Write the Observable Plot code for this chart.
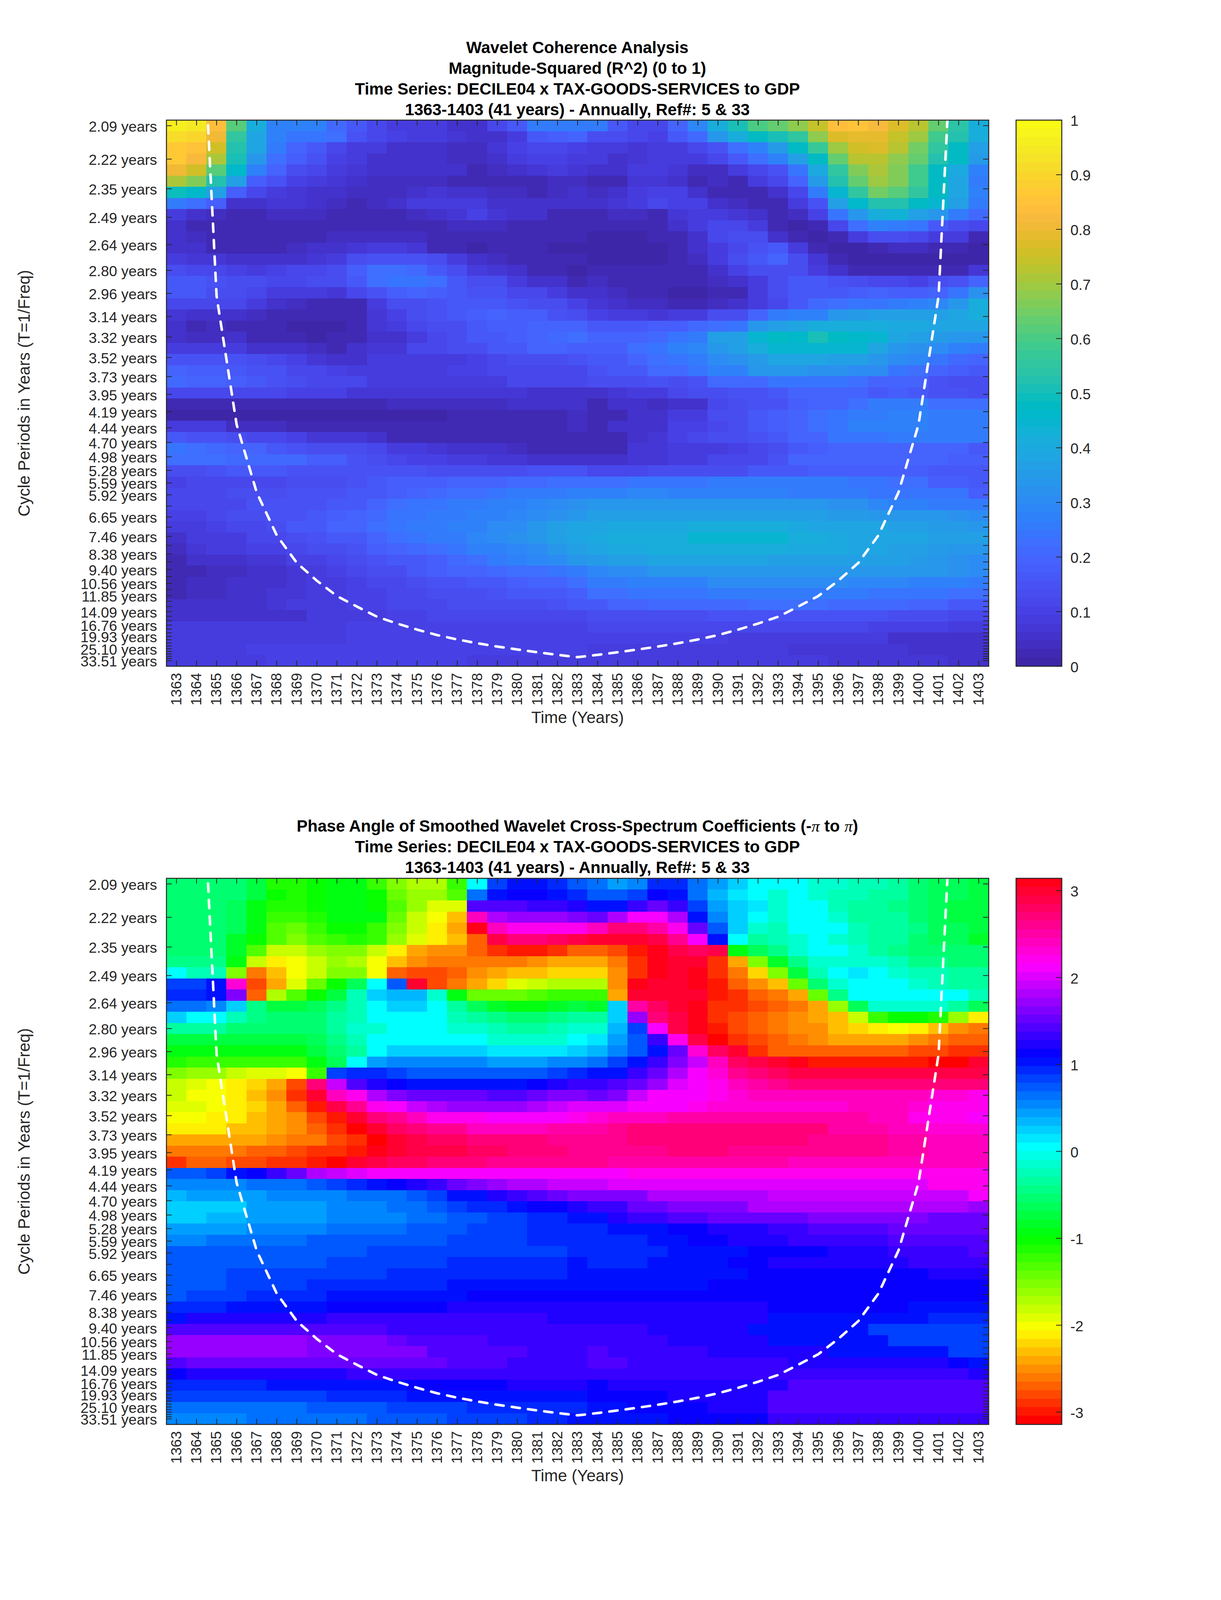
<!DOCTYPE html>
<html>
<head>
<meta charset="utf-8">
<script src="https://cdn.jsdelivr.net/npm/d3@7"></script>
<script src="https://cdn.jsdelivr.net/npm/@observablehq/plot@0.6"></script>
<style>
html,body{margin:0;padding:0;background:#fff;}
#page{position:relative;width:3125px;height:4096px;background:#fff;overflow:hidden;font-family:"Liberation Sans",Arial,sans-serif;}
#page svg{position:absolute;background:transparent;overflow:visible;font-family:"Liberation Sans",Arial,sans-serif;}
.t{position:absolute;left:1477.75px;transform:translateX(-50%);white-space:nowrap;font:bold 42px/47px "Liberation Sans",Arial,sans-serif;color:#000;}
.t i{font-family:"Liberation Serif",serif;font-weight:normal;}
</style>
</head>
<body>
<div id="page"></div>
<script>
const years = d3.range(1363, 1404);
// cycle periods of the 49 wavelet rows, top to bottom
const periods = [2.09,2.22,2.35,2.49,2.64,2.80,2.96,3.14,3.32,3.52,3.73,3.95,4.19,4.44,4.70,4.98,5.28,5.59,5.92,6.27,6.65,7.05,7.46,7.91,8.38,8.88,9.40,9.96,10.56,11.18,11.85,12.55,13.30,14.09,14.92,15.81,16.76,17.75,18.81,19.93,21.12,22.37,23.70,25.10,26.60,28.18,29.85,31.62,33.51];
const labelledPeriods = [2.09,2.22,2.35,2.49,2.64,2.80,2.96,3.14,3.32,3.52,3.73,3.95,4.19,4.44,4.70,4.98,5.28,5.59,5.92,6.65,7.46,8.38,9.40,10.56,11.85,14.09,16.76,19.93,25.10,33.51];
// cone of influence: period at each year 1364..1402
const coiYears = d3.range(1364, 1403);
const coiPeriods = [1.49,2.98,4.39,5.85,7.41,8.94,10.32,11.9,13.3,15.0,16.4,17.9,19.5,21.0,22.5,24.0,25.5,27.1,28.8,30.5,28.8,27.1,25.5,24.0,22.5,21.0,19.5,17.9,16.4,15.0,13.3,11.9,10.32,8.94,7.41,5.85,4.39,2.98,1.49];
// magnitude-squared coherence, in percent
const coherence = [
[96,95,84,62,41,28,27,27,21,16,11,9,9,8,5,5,11,16,25,26,26,26,17,12,12,19,29,41,50,60,63,68,74,83,85,82,77,72,64,54,42],
[92,90,80,55,39,27,24,24,22,15,11,10,8,8,7,5,5,9,16,18,19,14,14,11,10,17,21,33,42,47,51,55,68,77,79,79,74,69,59,52,42],
[87,85,75,52,38,25,20,16,12,9,8,6,6,6,4,4,7,10,11,11,10,8,8,7,8,8,11,15,22,28,35,47,57,70,76,77,72,65,55,48,36],
[86,82,71,50,34,23,18,15,10,8,6,5,5,5,4,4,6,9,10,10,9,8,6,7,9,9,8,12,16,22,28,37,47,63,72,72,68,64,53,47,35],
[80,75,62,46,27,19,14,11,9,7,6,5,5,5,5,3,4,6,7,8,7,5,5,8,8,7,4,4,8,12,15,24,40,55,66,71,66,58,48,40,28],
[71,66,52,37,18,15,10,8,7,5,4,4,4,4,3,2,2,3,3,4,4,3,3,7,7,5,3,4,3,8,12,19,35,52,64,69,66,58,48,39,25],
[49,46,36,18,11,9,7,6,5,4,4,4,5,7,6,5,4,4,3,4,5,4,5,8,10,10,6,2,3,2,6,11,26,45,56,65,62,55,47,38,27],
[25,22,18,6,5,7,7,5,4,3,4,5,8,9,9,8,6,5,5,5,5,6,7,9,11,10,10,5,4,3,3,8,15,36,46,53,53,47,44,36,26],
[8,5,4,3,2,4,4,4,3,3,3,2,4,6,7,10,7,6,5,3,3,3,4,4,3,7,9,9,7,5,3,4,10,24,33,42,43,37,33,26,21],
[6,3,3,2,2,2,2,2,2,2,2,2,2,2,4,4,4,3,3,3,2,2,2,2,3,6,9,11,11,8,3,1,3,12,22,27,26,24,17,14,11],
[6,4,3,2,2,2,2,2,4,4,4,4,4,2,2,2,2,3,3,3,2,1,1,1,2,3,6,11,13,13,6,2,0,2,9,14,14,12,9,8,3],
[6,5,3,2,2,2,4,5,6,7,9,9,7,3,2,1,2,2,2,1,1,1,1,1,1,3,5,8,12,15,16,9,2,0,1,3,4,4,3,2,1],
[9,7,7,5,5,5,5,7,9,13,15,15,15,13,8,6,4,3,3,2,2,1,1,1,1,3,4,9,14,16,19,14,7,2,1,1,1,1,1,1,1],
[13,12,11,10,9,10,11,12,14,18,22,22,21,17,13,9,7,5,3,2,1,2,2,2,2,2,3,5,10,13,14,14,9,5,3,2,3,3,3,3,7],
[17,16,15,14,14,11,12,13,14,17,22,24,24,22,17,13,13,9,6,5,3,4,3,2,2,2,2,4,6,9,13,16,16,15,14,12,11,10,13,15,20],
[16,16,14,14,11,8,8,8,7,12,15,18,19,18,16,15,15,12,12,9,6,5,4,3,3,1,1,2,3,8,13,16,17,17,18,19,18,18,20,24,32],
[12,11,11,11,8,5,4,3,3,3,9,13,14,15,17,17,17,15,14,13,10,7,5,4,4,3,3,4,6,8,12,17,21,22,24,24,26,27,29,33,41],
[7,5,5,5,4,3,2,2,2,3,7,10,13,15,17,18,19,18,18,15,14,10,9,9,7,8,9,13,14,20,26,28,28,33,35,36,36,36,36,38,42],
[5,3,4,3,2,2,1,1,1,3,7,8,11,13,14,16,18,18,20,20,20,16,16,16,18,18,21,23,24,34,36,39,41,41,42,42,40,40,39,39,38],
[5,4,4,5,3,2,2,1,2,3,5,6,9,11,14,16,17,18,19,21,22,19,19,20,21,24,26,36,36,45,47,46,50,47,46,45,38,37,35,34,33],
[9,9,9,8,5,5,5,4,3,5,7,7,11,11,13,14,16,17,19,20,18,18,18,22,24,28,29,33,36,42,45,44,44,44,44,39,33,32,30,28,25],
[15,15,15,15,13,11,10,7,6,6,8,8,8,8,9,10,12,13,13,14,15,16,16,20,22,24,26,30,32,35,38,39,38,37,37,34,31,29,24,21,20],
[19,18,18,16,15,15,12,11,10,9,9,8,8,8,10,10,11,12,11,11,12,15,17,17,21,21,24,27,27,33,33,33,32,32,30,30,24,22,19,18,16],
[21,20,20,18,17,15,14,12,11,11,9,9,9,9,9,9,9,11,11,11,11,13,13,14,15,14,15,21,21,21,24,24,24,24,23,20,19,19,15,14,13],
[11,11,11,11,11,11,10,10,10,7,7,7,7,7,7,7,7,7,5,5,5,6,7,9,9,11,14,14,15,15,17,19,19,19,19,17,18,16,15,15,13],
[2,2,2,2,2,2,2,2,2,2,3,4,4,4,4,4,4,5,5,5,6,3,5,5,4,5,5,12,13,15,15,18,20,20,22,25,25,25,22,22,22],
[1,1,1,1,1,1,1,1,1,1,1,1,1,1,2,2,2,2,3,3,4,2,3,5,5,8,8,13,13,16,18,19,22,24,25,25,27,27,26,26,26],
[8,8,8,4,4,4,3,3,3,2,2,2,2,2,2,2,2,2,3,3,4,2,5,5,5,10,10,12,14,16,18,19,22,24,27,27,27,27,26,26,26],
[17,15,15,14,11,11,10,7,7,7,5,3,3,3,2,2,2,2,3,3,3,2,3,6,7,10,12,13,14,15,16,19,20,24,24,24,25,26,26,25,25],
[24,23,21,20,20,16,15,14,14,14,12,9,9,7,6,6,5,4,3,3,3,3,3,7,7,8,9,9,10,11,13,16,18,20,20,20,20,20,19,19,17],
[22,22,22,21,21,21,21,18,18,15,14,12,10,10,9,9,7,7,6,6,6,6,6,7,7,8,8,11,12,12,15,19,19,19,19,19,19,19,19,18,18],
[14,14,15,16,16,16,15,15,15,15,15,15,15,13,13,14,14,14,15,15,15,12,12,12,13,13,13,14,14,16,16,17,18,18,18,18,18,18,17,17,17],
[10,11,11,11,11,12,14,14,14,15,16,18,18,18,20,20,20,21,21,22,22,22,22,24,24,24,24,25,25,25,25,25,25,25,24,24,22,22,18,18,17],
[11,11,11,13,13,14,15,15,15,16,17,18,20,21,23,23,24,25,26,26,27,27,27,29,29,28,28,28,28,28,28,26,26,26,25,24,24,24,24,24,18],
[11,11,12,12,15,15,15,15,17,17,20,22,24,24,25,26,27,28,29,30,32,33,34,34,34,34,34,34,34,34,34,34,33,32,32,29,28,28,26,26,25],
[10,10,11,13,13,15,15,17,18,19,21,24,24,25,26,27,28,29,30,32,34,36,36,37,37,37,37,37,37,37,37,37,36,35,35,34,33,33,33,32,30],
[9,9,10,12,12,14,16,17,19,20,22,24,25,26,27,28,30,31,34,36,39,39,40,40,40,40,41,41,41,41,41,40,39,38,38,38,37,36,35,35,34],
[6,8,9,9,12,12,14,15,16,17,20,23,24,25,26,29,31,32,34,37,39,40,41,41,41,42,44,44,44,44,44,41,41,40,39,39,38,38,37,37,36],
[4,7,9,9,10,10,11,13,14,15,18,20,21,23,24,27,28,29,30,33,37,38,40,40,42,42,41,41,41,41,41,40,40,40,39,38,37,36,35,34,33],
[2,5,5,5,7,7,10,10,12,14,15,16,17,18,21,22,26,27,29,31,33,35,36,36,39,39,39,38,38,38,37,36,36,37,37,37,36,35,34,32,31],
[2,2,4,4,5,6,7,8,10,11,13,14,16,18,19,19,21,22,23,24,26,29,30,31,33,33,33,34,34,34,34,34,34,34,33,33,33,33,33,32,31],
[2,4,4,5,6,6,7,8,9,10,11,12,14,15,15,16,17,18,19,19,22,26,26,27,28,28,28,31,31,31,31,31,31,31,29,29,29,28,28,28,26],
[3,4,4,6,6,7,7,9,9,10,10,11,12,13,14,14,15,16,17,17,18,22,22,24,24,24,24,25,25,25,25,25,25,25,25,24,24,24,24,23,23],
[5,6,6,6,6,7,8,8,9,10,10,11,11,12,13,13,13,13,14,15,16,17,20,20,21,21,21,21,21,22,22,22,22,21,21,21,21,19,19,17,16],
[5,5,5,6,6,6,6,8,8,8,9,10,10,11,11,11,11,11,11,12,12,14,14,14,14,14,14,15,15,15,15,15,15,15,15,15,13,13,13,11,11],
[8,8,8,8,9,9,9,9,9,10,10,10,10,10,10,10,10,10,10,10,10,12,12,12,12,12,12,12,12,12,12,12,12,11,11,10,10,10,10,8,8],
[8,9,9,9,9,9,9,9,9,10,10,10,10,10,10,10,10,10,10,10,10,10,10,10,10,10,10,10,9,9,9,9,9,8,8,8,6,6,6,6,6],
[9,9,9,9,10,10,10,10,10,10,10,10,10,10,10,10,10,10,10,10,10,9,9,9,9,9,9,9,9,9,9,7,7,7,7,7,7,6,5,5,6],
[9,9,9,9,9,10,10,10,10,10,10,10,10,10,10,9,9,9,9,9,9,9,9,9,9,8,8,8,8,8,8,8,8,7,7,7,7,7,7,6,6]
];
// phase angle, in tenths of a radian
const phase = [
[-5,-5,-5,-5,-7,-11,-11,-10,-9,-9,-12,-15,-17,-17,-12,0,8,10,10,9,7,6,4,5,9,9,6,4,2,0,0,0,-1,-1,-2,-2,-3,-5,-6,-6,-7],
[-5,-5,-5,-5,-7,-10,-11,-10,-9,-9,-10,-14,-16,-16,-13,6,10,11,11,10,9,7,7,8,11,10,6,3,1,0,-1,0,-1,-2,-2,-3,-3,-5,-6,-6,-7],
[-5,-5,-5,-6,-9,-11,-11,-10,-9,-9,-10,-13,-16,-19,-19,14,14,14,13,13,12,10,10,13,15,13,8,4,2,1,-1,0,0,-2,-3,-3,-4,-5,-6,-7,-7],
[-5,-5,-5,-6,-9,-12,-12,-11,-9,-9,-9,-14,-18,-20,-23,24,18,17,17,17,16,15,18,21,21,18,10,5,2,0,-1,0,0,-1,-3,-3,-3,-5,-6,-7,-7],
[-5,-5,-5,-6,-9,-13,-14,-12,-10,-10,-12,-15,-18,-21,-24,31,24,22,22,22,22,24,27,27,25,22,15,7,2,-1,-2,0,0,0,-2,-3,-3,-4,-6,-6,-7],
[-5,-5,-5,-8,-10,-13,-15,-13,-12,-11,-12,-16,-19,-21,-23,-27,29,27,27,28,29,30,30,30,29,26,21,10,0,-3,-2,-1,0,-1,-2,-3,-3,-5,-6,-6,-8],
[-5,-5,-5,-8,-13,-18,-18,-16,-15,-15,-18,-21,-24,-25,-25,-27,-29,-30,-30,-29,-27,-27,-28,-30,31,29,28,29,-9,-6,-4,-1,0,0,-1,-3,-4,-5,-5,-5,-5],
[-4,-4,-4,-9,-18,-21,-20,-18,-16,-17,-20,-23,-25,-26,-26,-26,-26,-26,-25,-24,-24,-24,-26,-29,31,30,30,-29,-24,-15,-8,-4,-1,-1,-1,-1,-2,-4,-4,-5,-5],
[0,-2,-2,-15,-26,-23,-20,-18,-15,-15,-20,-27,-28,-28,-27,-25,-24,-23,-23,-22,-22,-22,-25,-29,31,30,31,-29,-26,-22,-15,-7,-2,0,1,0,-1,-2,-2,-3,-3],
[8,8,10,23,-28,-24,-19,-14,-10,-6,0,7,30,-28,-26,-24,-22,-19,-18,-17,-17,-17,-25,31,30,30,31,-30,-27,-25,-23,-14,-5,-1,0,0,0,-1,-2,-3,-3],
[9,9,10,16,-27,-17,-13,-10,-7,-2,2,3,3,-1,-9,-14,-14,-14,-13,-12,-12,-12,-24,30,30,30,30,-30,-29,-27,-26,-24,-14,-4,0,0,0,0,0,0,-2],
[6,6,5,2,-4,-7,-7,-6,-4,-2,0,2,2,0,-3,-6,-8,-9,-9,-8,-7,-8,2,25,28,30,31,-29,-29,-28,-27,-26,-24,-16,-6,-1,-1,-1,-1,-3,-6],
[2,0,0,-2,-4,-5,-5,-5,-3,-2,0,0,0,0,-2,-3,-4,-5,-5,-4,-3,-3,2,17,27,29,31,-29,-28,-27,-26,-25,-24,-23,-18,-12,-10,-10,-11,-16,-21],
[-3,-3,-3,-5,-5,-5,-5,-5,-3,-1,-1,0,0,0,-1,-1,-2,-3,-3,-2,-1,-1,3,8,21,29,31,-30,-28,-27,-26,-25,-25,-23,-22,-21,-20,-21,-23,-25,-26],
[-7,-7,-7,-7,-7,-7,-7,-6,-4,-2,0,0,0,0,0,0,-1,-1,-1,-1,0,1,4,7,13,22,29,-31,-29,-28,-27,-26,-25,-24,-24,-24,-24,-25,-26,-27,-27],
[-9,-9,-9,-9,-9,-9,-9,-7,-5,-3,0,2,2,2,2,2,1,1,1,1,2,3,5,7,10,15,23,28,30,-29,-27,-27,-27,-27,-27,-27,-27,-28,-28,-29,-29],
[-11,-12,-12,-12,-12,-12,-12,-9,-6,0,4,5,5,5,5,5,4,4,4,5,5,6,8,10,13,16,19,24,28,29,30,31,-30,-30,-30,-30,-30,-30,-31,-31,30],
[-15,-16,-16,-18,-19,-19,-20,-12,8,9,9,8,7,7,7,7,7,7,7,8,9,10,10,13,15,18,21,23,26,27,28,29,29,29,29,29,29,29,29,29,29],
[-18,-19,-20,-21,-22,-24,-28,27,19,14,12,11,10,10,10,10,10,10,11,12,13,13,14,15,17,20,21,22,24,25,26,27,27,27,27,27,27,27,27,27,27],
[-18,-20,-20,-21,-23,-25,-29,30,24,22,18,16,15,15,15,15,14,14,15,16,16,15,16,19,21,21,21,22,23,24,24,24,24,24,24,24,24,24,23,23,22],
[-19,-19,-20,-21,-22,-24,-27,-30,29,26,22,21,19,18,17,17,17,17,18,19,20,20,20,21,21,21,22,23,23,23,23,23,23,23,24,24,24,23,22,22,22],
[-20,-20,-21,-21,-23,-24,-25,-28,-30,30,27,26,24,22,22,22,21,21,21,21,22,23,24,24,24,25,25,25,25,25,25,25,25,25,25,24,24,22,22,22,21],
[-21,-21,-21,-23,-23,-24,-25,-27,-29,-31,30,28,27,26,26,24,24,24,24,25,25,25,26,27,27,27,27,27,27,27,27,27,27,25,25,25,24,24,23,23,23],
[-24,-24,-24,-24,-24,-25,-26,-26,-28,-29,-31,30,29,28,28,27,27,27,27,26,26,26,26,27,27,27,27,27,27,27,27,27,26,26,26,26,25,25,24,24,24],
[-26,-26,-26,-26,-27,-27,-28,-29,-29,-30,31,30,29,29,29,28,28,27,27,27,26,26,26,26,26,27,27,27,26,26,26,26,26,26,26,26,25,25,24,24,24],
[-29,-27,-27,-28,-28,-29,-29,-30,-31,30,29,28,28,27,27,27,26,26,26,26,26,26,25,25,25,25,25,25,25,25,25,24,24,24,24,24,24,24,24,24,24],
[7,7,8,10,11,13,15,18,19,20,21,21,21,21,21,21,21,21,21,21,21,21,21,22,22,22,22,22,22,22,22,22,22,22,22,22,22,22,22,22,22],
[5,5,5,5,6,6,6,7,8,9,10,11,12,13,15,16,17,18,18,19,19,19,20,20,20,20,20,20,20,20,20,20,20,20,20,20,20,20,22,22,22],
[3,4,4,4,4,5,5,5,5,6,6,6,7,8,10,10,12,13,14,15,16,16,16,16,18,18,18,18,18,18,19,19,19,19,19,19,19,19,19,19,21],
[2,2,2,2,4,4,4,4,5,5,5,6,6,7,8,9,9,10,11,11,12,13,13,15,15,16,16,16,16,18,18,18,18,18,18,18,18,18,18,18,17],
[2,2,3,3,4,4,4,4,5,5,5,5,6,6,7,7,8,8,9,9,10,10,12,13,13,14,14,15,15,15,15,15,16,16,16,16,16,16,15,15,15],
[4,4,4,4,5,5,5,5,6,6,6,6,7,7,7,8,8,8,9,9,9,9,10,10,10,11,11,12,12,12,13,13,14,14,14,14,15,15,15,15,15],
[5,5,6,6,6,6,6,7,7,7,7,7,7,7,8,8,8,8,9,9,9,9,9,9,10,10,11,11,12,12,12,13,13,13,13,13,14,14,14,14,14],
[7,7,7,7,7,7,7,7,7,7,8,8,8,8,8,8,8,8,8,8,9,9,9,9,9,10,10,10,10,11,11,11,11,12,12,12,13,13,13,13,14],
[7,7,7,7,7,7,7,7,8,8,8,8,8,8,9,9,9,9,9,9,10,9,9,9,10,10,10,10,11,11,12,12,12,12,12,12,12,13,13,13,13],
[7,7,7,8,8,8,8,8,8,8,8,9,9,9,9,9,9,9,9,9,10,10,10,10,10,10,10,10,10,11,11,11,11,11,11,11,11,11,12,12,12],
[7,7,7,8,8,8,8,9,9,9,9,9,9,9,10,10,10,10,10,10,10,10,10,10,10,10,10,11,11,11,11,11,11,11,11,11,11,11,11,11,11],
[7,8,8,8,9,9,9,9,10,10,10,10,10,10,10,11,11,11,11,11,11,11,11,11,11,11,11,11,11,11,11,11,11,11,11,11,11,11,11,11,11],
[9,9,9,10,10,10,10,10,11,11,11,11,11,11,12,12,12,12,12,12,12,12,12,12,12,12,12,12,12,12,11,11,11,11,11,11,11,10,10,10,10],
[10,12,12,12,12,12,12,12,13,13,13,13,13,13,13,13,13,13,13,12,12,12,12,12,12,12,12,12,12,12,10,10,10,10,10,10,10,10,9,9,9],
[14,14,14,14,14,14,14,14,14,14,14,13,13,13,13,13,13,13,13,13,13,13,13,13,12,12,12,12,12,10,10,10,10,10,10,8,8,8,8,8,8],
[17,17,17,17,17,17,17,16,16,16,16,15,14,14,14,14,13,13,13,13,13,13,13,13,13,12,12,12,12,12,10,10,10,10,10,10,8,8,8,8,8],
[17,17,17,17,17,17,17,16,16,16,16,16,16,14,14,14,14,14,13,13,13,14,13,13,13,13,13,12,12,12,12,12,12,10,10,10,10,10,10,8,8],
[14,15,15,15,15,15,15,15,15,15,15,15,15,15,14,14,14,13,13,13,13,14,14,13,13,13,13,13,13,13,13,12,12,12,12,12,12,12,12,11,10],
[11,12,12,12,12,12,12,12,12,13,13,13,13,13,13,13,13,13,13,13,13,13,13,13,13,13,13,13,13,13,13,13,13,13,13,13,13,13,13,13,12],
[9,9,9,9,9,10,10,10,10,10,10,10,11,11,11,11,11,12,12,12,12,11,12,12,12,12,12,12,12,12,12,14,14,14,14,14,14,14,14,14,14],
[8,8,8,8,8,8,8,8,9,9,9,9,10,10,10,10,10,10,10,10,10,11,11,11,11,12,12,12,12,12,14,14,14,14,14,14,14,14,14,14,14],
[6,6,6,6,6,6,6,7,7,7,7,8,8,8,8,9,9,9,9,9,9,10,10,11,11,11,11,12,12,12,14,14,14,14,14,14,14,14,14,14,14],
[5,5,5,5,6,6,6,6,6,6,7,7,7,7,8,8,8,8,9,9,10,10,10,10,10,11,11,11,11,11,13,13,13,13,13,13,13,13,13,13,13]
];
const coherenceTicks = [0,0.1,0.2,0.3,0.4,0.5,0.6,0.7,0.8,0.9,1];
const phaseTicks = [-3,-2,-1,0,1,2,3];
const parulaRGB = [[.2422,.1504,.6603],[.2504,.1650,.7076],[.2578,.1818,.7511],[.2647,.1978,.7952],[.2706,.2147,.8364],[.2751,.2342,.8710],[.2783,.2559,.8991],[.2803,.2782,.9221],[.2813,.3006,.9414],[.2810,.3228,.9579],[.2795,.3447,.9717],[.2760,.3667,.9829],[.2699,.3892,.9906],[.2602,.4123,.9952],[.2440,.4358,.9988],[.2206,.4603,.9973],[.1963,.4847,.9892],[.1834,.5074,.9798],[.1786,.5289,.9682],[.1764,.5499,.9520],[.1687,.5703,.9359],[.1540,.5902,.9218],[.1460,.6091,.9079],[.1380,.6276,.8973],[.1248,.6459,.8883],[.1113,.6635,.8763],[.0952,.6798,.8598],[.0689,.6948,.8394],[.0297,.7082,.8163],[.0036,.7203,.7917],[.0067,.7312,.7660],[.0433,.7411,.7394],[.0964,.7500,.7120],[.1408,.7584,.6842],[.1717,.7670,.6554],[.1938,.7758,.6251],[.2161,.7843,.5923],[.2470,.7918,.5567],[.2906,.7973,.5188],[.3406,.8008,.4789],[.3909,.8029,.4354],[.4456,.8024,.3909],[.5044,.7993,.3480],[.5616,.7942,.3045],[.6174,.7876,.2612],[.6720,.7793,.2227],[.7242,.7698,.1910],[.7738,.7598,.1646],[.8203,.7498,.1535],[.8634,.7406,.1596],[.9035,.7330,.1774],[.9393,.7288,.2100],[.9728,.7298,.2394],[.9956,.7434,.2371],[.9970,.7659,.2199],[.9952,.7893,.2028],[.9892,.8136,.1885],[.9786,.8386,.1766],[.9676,.8639,.1643],[.9610,.8890,.1537],[.9597,.9135,.1423],[.9628,.9373,.1265],[.9691,.9606,.1064],[.9769,.9839,.0805]];

const INK = "#262626";
const page = document.getElementById("page");
const K = 4096/6252; // the capture window is 4096 tall, so the reference's vertical layout is compressed by this factor
const parula = parulaRGB.map(c => d3.rgb(c[0]*255, c[1]*255, c[2]*255).formatHex());
const hsv = d3.range(64).map(i => d3.hsl(i/64*360, 1, .5).formatHex());
const fTop = 1/periods[0], fBot = 1/periods[48], step = (fTop-fBot)/48;
const freqDomain = [fBot-step/2, fTop+step/2];
const tickFreqs = periods.map(p => 1/p);
const labelFreqs = labelledPeriods.map(p => 1/p);
const coi = coiYears.map((year,i) => ({year, period: coiPeriods[i]}));

const L = 425.5, R = 2530, AH = 2134*K, MT = 10, PW = R-L, FS = 37.5, TICK = 14;
function place(svg, left, top){ svg.style.left = left+"px"; svg.style.top = top+"px"; page.appendChild(svg); return svg; }

function heat(matrix, scaleK, palette, domain, top){
  const cells = [];
  matrix.forEach((row,r) => row.forEach((v,c) => cells.push({
    x1: years[c]-.5, x2: years[c]+.5,
    y1: fTop-(r-.5)*step, y2: fTop-(r+.5)*step, v: v*scaleK})));
  const thresholds = d3.range(1,64).map(i => domain[0]+(domain[1]-domain[0])*i/64);
  const svg = Plot.plot({
    width: 2560, height: AH+MT+190,
    marginLeft: L, marginRight: 2560-R, marginTop: MT, marginBottom: 190,
    x: {domain:[1362.5,1403.5], axis:null},
    y: {domain:freqDomain, axis:null},
    color: {type:"threshold", domain:thresholds, range:palette},
    style: {background:"transparent", fontFamily:"Liberation Sans, Arial, sans-serif", overflow:"visible"},
    marks: [
      Plot.rect(cells, {x1:"x1", x2:"x2", y1:"y1", y2:"y2", fill:"v", shapeRendering:"crispEdges"}),
      Plot.line(coi, {x:"year", y:d=>1/d.period, stroke:"white", strokeWidth:6.5, strokeDasharray:"21 21", clip:true}),
      Plot.tickX(years, {x:d=>d, insetTop:AH-TICK, stroke:INK, strokeWidth:2}),
      Plot.tickX(years, {x:d=>d, insetBottom:AH-TICK, stroke:INK, strokeWidth:2}),
      Plot.tickY(tickFreqs, {y:d=>d, insetRight:PW-TICK, stroke:INK, strokeWidth:2}),
      Plot.tickY(tickFreqs, {y:d=>d, insetLeft:PW-TICK, stroke:INK, strokeWidth:2}),
      Plot.frame({stroke:INK, strokeWidth:2.5}),
      Plot.axisX(years, {anchor:"bottom", tickSize:0, tickPadding:17, tickRotate:-90, tickFormat:d=>String(d), fontSize:FS, color:INK, label:null}),
      Plot.axisY(labelFreqs, {anchor:"left", tickSize:0, tickPadding:24, dy:3, tickFormat:f=>(1/f).toFixed(2)+" years", fontSize:FS, color:INK, label:null}),
      Plot.text(["Time (Years)"], {frameAnchor:"bottom", dy:145, fontSize:42, fill:INK, lineAnchor:"bottom"}),
      Plot.text(["Cycle Periods in Years (T=1/Freq)"], {frameAnchor:"left", dx:-350, rotate:-90, textAnchor:"middle", fontSize:42, fill:INK, lineAnchor:"bottom"})
    ]
  });
  place(svg, 0, top-MT);
}

function colorbar(palette, domain, ticks, top){
  const bands = d3.range(64).map(i => ({
    y1: domain[0]+(domain[1]-domain[0])*i/64,
    y2: domain[0]+(domain[1]-domain[0])*(i+1)/64,
    v:  domain[0]+(domain[1]-domain[0])*(i+.5)/64}));
  const thresholds = d3.range(1,64).map(i => domain[0]+(domain[1]-domain[0])*i/64);
  const svg = Plot.plot({
    width: 300, height: AH+2*MT,
    marginLeft: 10, marginRight: 300-127, marginTop: MT, marginBottom: MT,
    x: {domain:[0,1], axis:null},
    y: {domain, axis:null},
    color: {type:"threshold", domain:thresholds, range:palette},
    style: {background:"transparent", fontFamily:"Liberation Sans, Arial, sans-serif", overflow:"visible"},
    marks: [
      Plot.rect(bands, {x1:0, x2:1, y1:"y1", y2:"y2", fill:"v", shapeRendering:"crispEdges"}),
      Plot.tickY(ticks, {y:d=>d, insetLeft:117-TICK, stroke:INK, strokeWidth:2}),
      Plot.frame({stroke:INK, strokeWidth:2.5}),
      Plot.axisY(ticks, {anchor:"right", tickSize:0, tickPadding:22, dy:3, tickFormat:d=>String(d), fontSize:FS, color:INK, label:null})
    ]
  });
  place(svg, 2590, top-MT);
}

function title(lines){
  lines.forEach(([html,baseline]) => {
    const d = document.createElement("div");
    d.className = "t"; d.innerHTML = html; d.style.top = (baseline*K-38)+"px";
    page.appendChild(d);
  });
}

title([["Wavelet Coherence Analysis",207],["Magnitude-Squared (R^2) (0 to 1)",288],["Time Series: DECILE04 x TAX-GOODS-SERVICES to GDP",370],["1363-1403 (41 years) - Annually, Ref#: 5 &amp; 33",450]]);
heat(coherence, 0.01, parula, [0,1], 469*K);
colorbar(parula, [0,1], coherenceTicks, 469*K);

title([["Phase Angle of Smoothed Wavelet Cross-Spectrum Coefficients (-<i>&pi;</i> to <i>&pi;</i>)",3250],["Time Series: DECILE04 x TAX-GOODS-SERVICES to GDP",3331],["1363-1403 (41 years) - Annually, Ref#: 5 &amp; 33",3412]]);
heat(phase, 0.1, hsv, [-Math.PI,Math.PI], 3431*K);
colorbar(hsv, [-Math.PI,Math.PI], phaseTicks, 3431*K);
</script>
</body>
</html>
